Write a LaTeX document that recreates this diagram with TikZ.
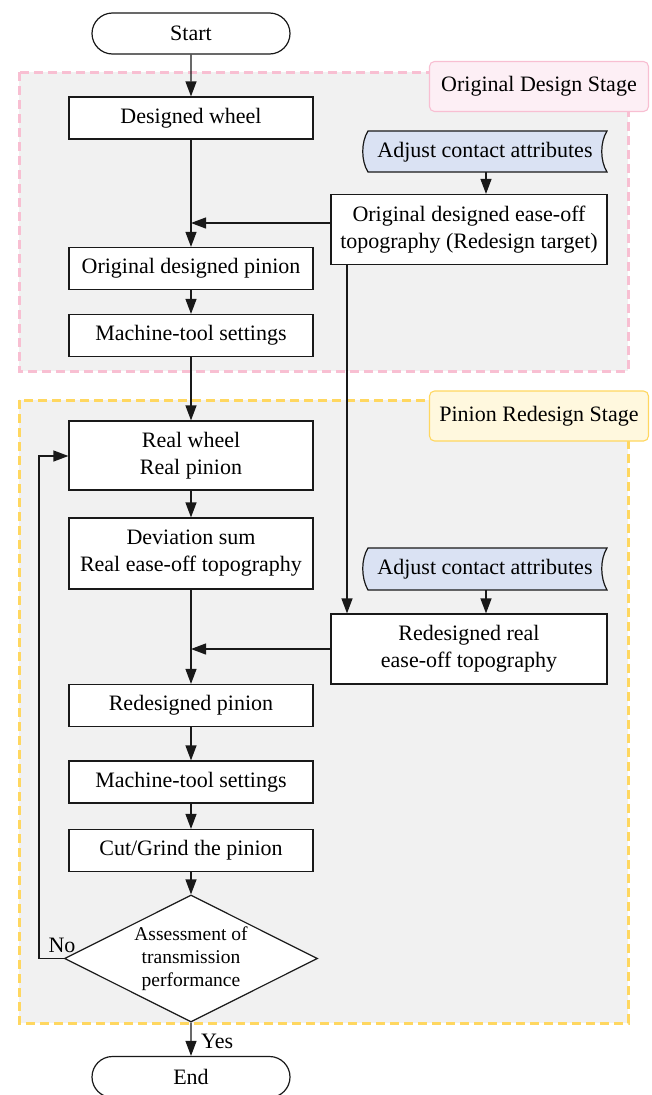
\documentclass[tikz,border=0pt]{standalone}
\usepackage{fontspec}
\setmainfont{Liberation Serif}
\usetikzlibrary{arrows.meta,shapes.geometric,shapes.misc}
\definecolor{stagebg}{HTML}{F1F1F1}
\definecolor{pinkline}{HTML}{F8BFD2}
\definecolor{pinkfill}{HTML}{FDEFF5}
\definecolor{yelline}{HTML}{FFD760}
\definecolor{yelfill}{HTML}{FFF8DE}
\definecolor{adjfill}{HTML}{DAE2F3}
\tikzset{
  base/.style={draw=black!90, line width=1.2pt, font=\fontsize{22}{27}\selectfont, align=center, inner sep=0pt},
  proc/.style={base, fill=white, rectangle, minimum width=244pt, minimum height=42pt},
  proc2/.style={base, fill=white, rectangle, minimum width=276pt, minimum height=70pt},
  term/.style={base, fill=white, rounded rectangle, minimum width=198pt, minimum height=41pt},
  decision/.style={base, fill=white, diamond, aspect=2, minimum width=253pt, minimum height=127pt, font=\fontsize{19.5}{23}\selectfont},
  stagebox/.style={line width=3pt, dash pattern=on 9pt off 5pt, fill=stagebg},
  stagelabel/.style={font=\fontsize{22}{26}\selectfont, rounded corners=5pt, line width=1.1pt, minimum width=219pt, minimum height=50pt, inner sep=0pt},
  conn/.style={draw=black!90, line width=1.2pt, -{Triangle[length=15pt,width=11pt]}},
  lbl/.style={font=\fontsize{22}{26}\selectfont, inner sep=0pt}
}
\begin{document}
\begin{tikzpicture}[x=1pt,y=-1pt]
\useasboundingbox (0,0) rectangle (652,1095);
% stage boxes
\draw[stagebox, draw=pinkline] (19,72) rectangle (628,371);
\draw[stagebox, draw=yelline] (19,400) rectangle (628,1023);
\node[stagelabel, draw=pinkline, fill=pinkfill] (lab1) at (539,86.5) {Original Design Stage};
\node[stagelabel, draw=yelline, fill=yelfill] (lab2) at (539,416) {Pinion Redesign Stage};
% adjust shapes
\draw[base, fill=adjfill] (368,131) -- (607,131) .. controls (600,142) and (600,161) .. (607,172) -- (368,172) .. controls (361,161) and (361,142) .. (368,131) -- cycle;
\node[lbl] (adj1) at (485,152) {Adjust contact attributes};
\draw[base, fill=adjfill] (368,548) -- (607,548) .. controls (600,559) and (600,578) .. (607,590) -- (368,590) .. controls (361,578) and (361,559) .. (368,548) -- cycle;
\node[lbl] (adj2) at (485,569.5) {Adjust contact attributes};
\coordinate (adj1b) at (486,172);
\coordinate (adj2b) at (486,590);
% nodes
\node[term] (start) at (191,33.5) {Start};
\node[proc] (wheel) at (191,118) {Designed wheel};
\node[proc2] (orig) at (469,229.5) {Original designed ease-off\\topography (Redesign target)};
\node[proc] (opin) at (191,268.5) {Original designed pinion};
\node[proc] (mts1) at (191,335.5) {Machine-tool settings};
\node[proc, minimum height=69pt] (real) at (191,455.5) {Real wheel\\Real pinion};
\node[proc, minimum height=71pt] (dev) at (191,553.5) {Deviation sum\\Real ease-off topography};
\node[proc2] (redes) at (469,649) {Redesigned real\\ease-off topography};
\node[proc] (rpin) at (191,705.5) {Redesigned pinion};
\node[proc] (mts2) at (191,782) {Machine-tool settings};
\node[proc] (cut) at (191,850.5) {Cut/Grind the pinion};
\node[decision] (dec) at (191,958.5) {Assessment of\\transmission\\performance};
\node[term] (end) at (191,1077) {End};
% connectors
\draw[conn] (start) -- (wheel);
\draw[conn] (wheel) -- (opin);
\draw[conn] (adj1b) -- (orig.north -| adj1b);
\draw[conn] (orig.west |- 0,223) -- (191,223);
\draw[conn] (opin) -- (mts1);
\draw[conn] (mts1) -- (real);
\draw[conn] (real) -- (dev);
\draw[conn] (orig.south -| 347,0) -- (redes.north -| 347,0);
\draw[conn] (adj2b) -- (redes.north -| adj2b);
\draw[conn] (dev) -- (rpin);
\draw[conn] (redes.west) -- (191,649);
\draw[conn] (rpin) -- (mts2);
\draw[conn] (mts2) -- (cut);
\draw[conn] (cut) -- (dec);
\draw[conn] (dec) -- (end);
\draw[conn] (dec.west) -- (39,958.5) -- (39,456) -- (real.west |- 0,456);
\node[lbl, anchor=south] (no) at (62,953) {No};
\node[lbl, anchor=west] (yes) at (201,1041) {Yes};
\end{tikzpicture}
\end{document}
